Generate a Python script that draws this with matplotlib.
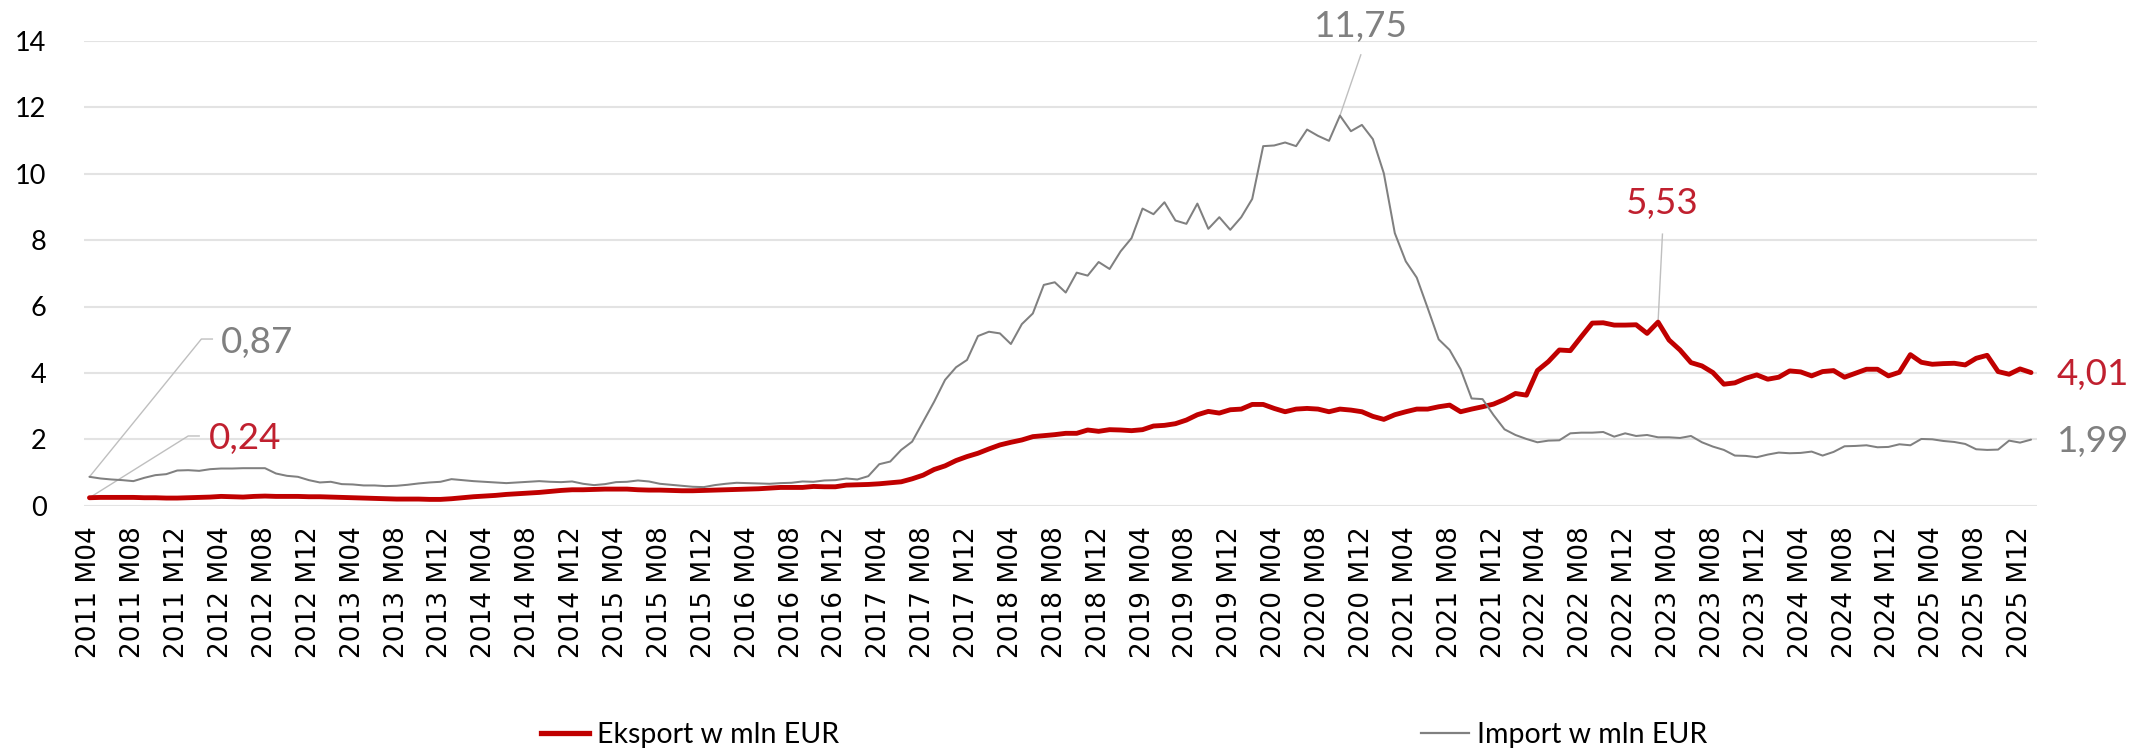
import matplotlib
matplotlib.use("Agg")
import matplotlib.pyplot as plt
from matplotlib.lines import Line2D

# ---------------- data ----------------
months = [f"{2011 + (3 + i) // 12} M{(3 + i) % 12 + 1:02d}" for i in range(178)]

export_eur = [
    0.24, 0.25, 0.25, 0.25, 0.25, 0.24, 0.24, 0.23, 0.23, 0.24, 0.25, 0.26,
    0.28, 0.27, 0.26, 0.28, 0.29, 0.28, 0.28, 0.28, 0.27, 0.27, 0.26, 0.25,
    0.24, 0.23, 0.22, 0.21, 0.20, 0.20, 0.20, 0.19, 0.19, 0.21, 0.24, 0.27,
    0.29, 0.31, 0.34, 0.36, 0.38, 0.40, 0.43, 0.46, 0.48, 0.48, 0.49, 0.50,
    0.50, 0.50, 0.48, 0.47, 0.47, 0.46, 0.45, 0.45, 0.46, 0.47, 0.48, 0.49,
    0.50, 0.51, 0.53, 0.55, 0.55, 0.55, 0.58, 0.57, 0.57, 0.62, 0.63, 0.64,
    0.66, 0.69, 0.72, 0.81, 0.92, 1.09, 1.20, 1.36, 1.48, 1.58, 1.71, 1.83,
    1.91, 1.98, 2.08, 2.11, 2.14, 2.18, 2.18, 2.28, 2.24, 2.29, 2.28, 2.26,
    2.29, 2.40, 2.42, 2.47, 2.58, 2.74, 2.84, 2.79, 2.89, 2.91, 3.05, 3.05,
    2.93, 2.83, 2.91, 2.93, 2.91, 2.83, 2.91, 2.88, 2.83, 2.69, 2.60, 2.74,
    2.83, 2.91, 2.91, 2.98, 3.03, 2.83, 2.91, 2.98, 3.06, 3.20, 3.38, 3.33,
    4.07, 4.34, 4.69, 4.67, 5.09, 5.50, 5.51, 5.44, 5.44, 5.45, 5.19, 5.53,
    4.99, 4.69, 4.31, 4.21, 4.01, 3.66, 3.70, 3.84, 3.94, 3.81, 3.87, 4.06,
    4.03, 3.91, 4.04, 4.07, 3.87, 3.99, 4.11, 4.11, 3.91, 4.02, 4.55, 4.32,
    4.26, 4.28, 4.29, 4.24, 4.44, 4.53, 4.04, 3.96, 4.12, 4.01,
]

import_eur = [
    0.87, 0.82, 0.79, 0.77, 0.74, 0.84, 0.92, 0.95, 1.06, 1.07, 1.05, 1.10,
    1.12, 1.12, 1.13, 1.13, 1.13, 0.97, 0.90, 0.87, 0.77, 0.70, 0.72, 0.65,
    0.64, 0.61, 0.61, 0.59, 0.60, 0.63, 0.67, 0.70, 0.72, 0.80, 0.77, 0.74,
    0.72, 0.70, 0.68, 0.70, 0.72, 0.74, 0.72, 0.71, 0.73, 0.66, 0.62, 0.65,
    0.71, 0.72, 0.76, 0.73, 0.66, 0.63, 0.60, 0.57, 0.56, 0.62, 0.66, 0.69,
    0.68, 0.67, 0.66, 0.68, 0.69, 0.73, 0.72, 0.76, 0.77, 0.82, 0.79, 0.89,
    1.25, 1.33, 1.68, 1.93, 2.53, 3.13, 3.79, 4.17, 4.39, 5.11, 5.24, 5.19,
    4.87, 5.47, 5.79, 6.65, 6.73, 6.42, 7.02, 6.93, 7.34, 7.13, 7.66, 8.06,
    8.95, 8.78, 9.14, 8.59, 8.49, 9.10, 8.34, 8.69, 8.31, 8.69, 9.24, 10.83,
    10.85, 10.94, 10.83, 11.33, 11.14, 10.99, 11.75, 11.28, 11.47, 11.04, 10.01, 8.21,
    7.36, 6.87, 5.95, 5.01, 4.69, 4.11, 3.23, 3.21, 2.73, 2.30, 2.13, 2.01,
    1.91, 1.96, 1.97, 2.18, 2.20, 2.20, 2.22, 2.08, 2.18, 2.10, 2.13, 2.06,
    2.06, 2.04, 2.10, 1.91, 1.78, 1.68, 1.51, 1.50, 1.46, 1.54, 1.60, 1.58,
    1.59, 1.63, 1.51, 1.62, 1.79, 1.80, 1.82, 1.76, 1.77, 1.85, 1.82, 2.01,
    2.00, 1.95, 1.92, 1.86, 1.70, 1.68, 1.69, 1.96, 1.90, 1.99,
]

series_names = ["Eksport w mln EUR", "Import w mln EUR"]
y_ticks = [0, 2, 4, 6, 8, 10, 12, 14]
label_step = 4

# labelled points (indices): first, peak, last
callouts_export = [0, 143, 177]
callouts_import = [0, 114, 177]

# ---------------- style ----------------
RED = "#C00000"
RED_TXT = "#C0202F"
GREY = "#808080"
LEADER = "#BFBFBF"
LABEL_FONT = "Lato"

W, H = 2133, 751
fig = plt.figure(figsize=(W / 100, H / 100), dpi=100)
left_px, right_px, top_px, bot_px = 84, 2036.5, 40.9, 505.7
ax = fig.add_axes([left_px / W, 1 - bot_px / H, (right_px - left_px) / W, (bot_px - top_px) / H])

x = list(range(len(months)))
ax.plot(x, export_eur, color=RED, lw=3.5, solid_joinstyle="round",
        solid_capstyle="round", zorder=3)
ax.plot(x, import_eur, color=GREY, lw=1.45, solid_joinstyle="round",
        solid_capstyle="round", zorder=4)

ax.set_xlim(-0.5, len(months) - 0.5)
ax.set_ylim(0, 14)
ax.set_yticks(y_ticks)
ax.set_yticklabels([str(v) for v in y_ticks], fontsize=19.5, family=LABEL_FONT)
ticks = list(range(0, len(months), label_step))
ax.set_xticks(ticks)
ax.set_xticklabels([months[i] for i in ticks], rotation=90, fontsize=19,
                   family="DejaVu Sans")
ax.tick_params(axis="y", length=0, pad=27)
ax.tick_params(axis="x", length=0, pad=15)
ax.grid(axis="y", color="#E3E3E3", lw=1.5)
ax.set_axisbelow(True)
for s in ax.spines.values():
    s.set_visible(False)


def fmt(v):
    return f"{v:.2f}".replace(".", ",")


# first-point labels with elbow leaders
i0 = callouts_import[0]
ax.plot([i0, 10.2, 11.2], [import_eur[i0], 5.02, 5.02], color=LEADER, lw=1.0,
        clip_on=False, zorder=2)
ax.text(12.0, 4.93, fmt(import_eur[i0]), color=GREY, fontsize=26.5,
        family=LABEL_FONT, ha="left", va="center")
e0 = callouts_export[0]
ax.plot([e0, 9.0, 10.0], [export_eur[e0], 2.10, 2.10], color=LEADER, lw=1.0,
        clip_on=False, zorder=2)
ax.text(10.9, 2.01, fmt(export_eur[e0]), color=RED_TXT, fontsize=26.5,
        family=LABEL_FONT, ha="left", va="center")

# peaks
ip = callouts_import[1]
ax.plot([ip, ip + 1.9], [import_eur[ip], 13.58], color=LEADER, lw=1.0,
        clip_on=False, zorder=2)
ax.text(ip + 1.9, 14.42, fmt(import_eur[ip]), color=GREY, fontsize=26.5,
        family=LABEL_FONT, ha="center", va="center")
ep = callouts_export[1]
ax.plot([ep, ep + 0.4], [export_eur[ep], 8.18], color=LEADER, lw=1.0,
        clip_on=False, zorder=2)
ax.text(ep + 0.4, 9.09, fmt(export_eur[ep]), color=RED_TXT, fontsize=26.5,
        family=LABEL_FONT, ha="center", va="center")

# last values
el = callouts_export[2]
ax.text(el + 2.3, export_eur[el] - 0.07, fmt(export_eur[el]), color=RED_TXT,
        fontsize=26.5, family=LABEL_FONT, ha="left", va="center", clip_on=False)
il = callouts_import[2]
ax.text(il + 2.4, import_eur[il] - 0.07, fmt(import_eur[il]), color=GREY,
        fontsize=26.5, family=LABEL_FONT, ha="left", va="center", clip_on=False)

# legend
h_exp = Line2D([], [], color=RED, lw=3.8)
h_imp = Line2D([], [], color=GREY, lw=1.6)
leg_y = 1 - 735 / H
for h, name, xpx in [(h_exp, series_names[0], 541), (h_imp, series_names[1], 1421)]:
    fig.legend([h], [name], loc="center left", bbox_to_anchor=(xpx / W, leg_y),
               frameon=False, handlelength=1.7, handletextpad=0.25, borderpad=0,
               borderaxespad=0, prop={"family": LABEL_FONT, "size": 20.5})

fig.savefig("out.png", dpi=100)
